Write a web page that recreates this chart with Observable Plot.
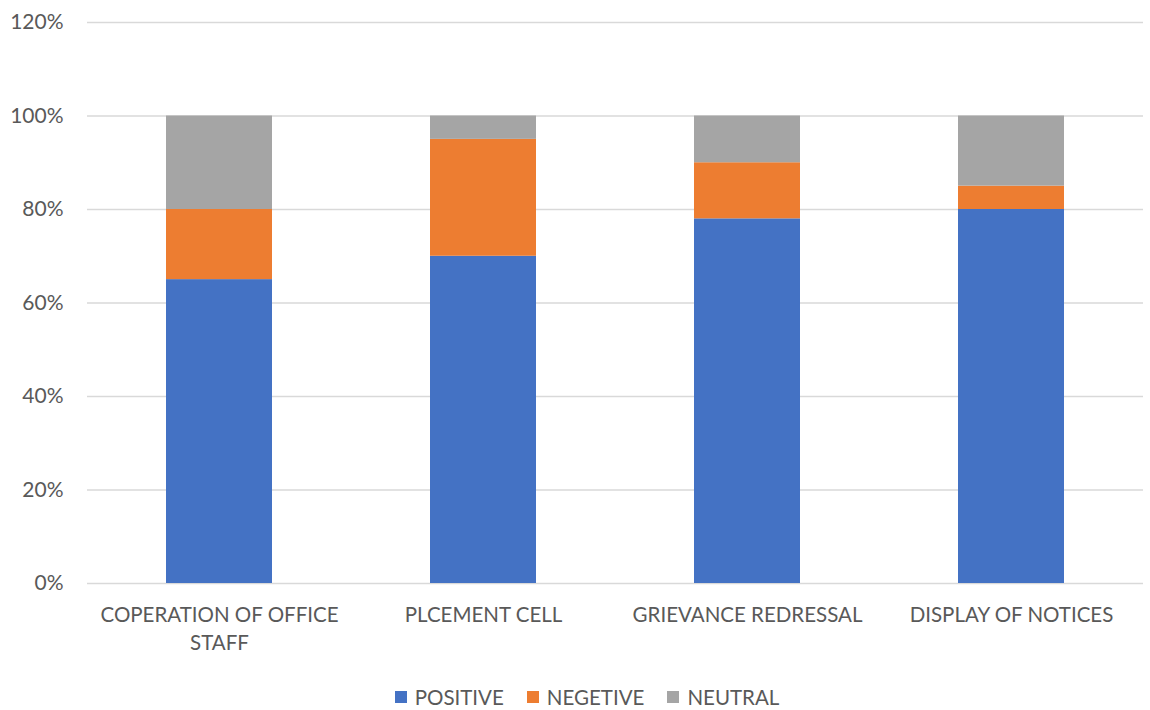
<!DOCTYPE html>
<html>
<head>
<meta charset="utf-8">
<script src="https://cdn.jsdelivr.net/npm/d3@7"></script>
<script src="https://cdn.jsdelivr.net/npm/@observablehq/plot@0.6"></script>
<style>
  body { margin: 0; background: #fff; font-family: Lato, sans-serif; }
  #chart { width: 1150px; }
  .legend { display: flex; justify-content: center; align-items: center; gap: 23px;
            padding-left: 24px; margin-top: 15px; height: 44px; color: #595959; font-size: 20.5px; }
  .legend .item { display: flex; align-items: center; gap: 8px; }
  .legend .swatch { width: 12px; height: 12px; display: inline-block; }
</style>
</head>
<body>
<div id="chart"></div>
<script>
// Survey categories and the share of each response (fractions of 1)
const categories = [
  "COPERATION OF OFFICE STAFF",
  "PLCEMENT CELL",
  "GRIEVANCE REDRESSAL",
  "DISPLAY OF NOTICES"
];
const positive = [0.65, 0.70, 0.78, 0.80];
const negetive = [0.15, 0.25, 0.12, 0.05];
const neutral  = [0.20, 0.05, 0.10, 0.15];

const seriesNames = ["POSITIVE", "NEGETIVE", "NEUTRAL"];
const seriesColors = ["#4472C4", "#ED7D31", "#A5A5A5"];
const yTicks = [0, 0.2, 0.4, 0.6, 0.8, 1.0, 1.2];

// Axis labels broken onto two lines where the category name is long
const categoryLabels = new Map([
  ["COPERATION OF OFFICE STAFF", "COPERATION OF OFFICE\nSTAFF"]
]);

const seriesValues = [positive, negetive, neutral];
const rows = [];
seriesNames.forEach((s, si) => {
  categories.forEach((c, ci) => rows.push({category: c, series: s, value: seriesValues[si][ci]}));
});

const chart = Plot.plot({
  width: 1150,
  height: 660,
  marginLeft: 87,
  marginRight: 7,
  marginTop: 22,
  marginBottom: 77,
  style: {fontFamily: "Lato, sans-serif", fontSize: "21px", color: "#595959", background: "#fff"},
  x: {domain: categories, paddingInner: 0.6, paddingOuter: 0.3, label: null},
  y: {domain: [0, 1.2], label: null},
  color: {domain: seriesNames, range: seriesColors},
  marks: [
    Plot.gridY(yTicks, {stroke: "#D9D9D9", strokeOpacity: 1, strokeWidth: 1.3}),
    Plot.barY(rows, {x: "category", y: "value", fill: "series", order: seriesNames}),
    Plot.axisY(yTicks, {tickSize: 0, tickPadding: 24, tickFormat: d3.format(".0%"), label: null, fill: "#595959"}),
    Plot.axisX({tickSize: 0, tickPadding: 18, lineHeight: 1.38, fontSize: 20.5, label: null, fill: "#595959",
                tickFormat: d => categoryLabels.get(d) ?? d})
  ]
});

document.getElementById("chart").append(chart);

// Legend row under the chart
const legend = d3.select("body").append("div").attr("class", "legend");
seriesNames.forEach((s, i) => {
  const item = legend.append("div").attr("class", "item");
  item.append("span").attr("class", "swatch").style("background", seriesColors[i]);
  item.append("span").text(s);
});
</script>
</body>
</html>
